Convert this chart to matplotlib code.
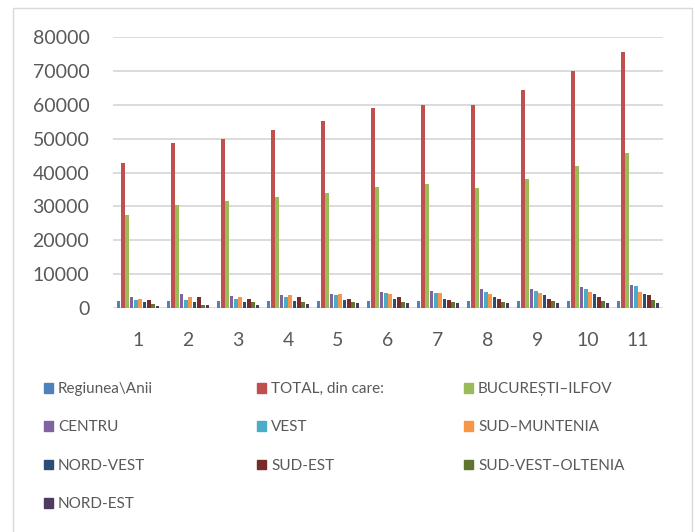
import numpy as np
import matplotlib.pyplot as plt
from matplotlib.patches import Rectangle, Patch

plt.rcParams['font.family'] = ['Lato', 'DejaVu Sans']

# ---- data ----
categories = ['1', '2', '3', '4', '5', '6', '7', '8', '9', '10', '11']
series_names = ['Regiunea\\Anii', 'TOTAL, din care:', 'BUCUREȘTI–ILFOV', 'CENTRU', 'VEST',
                'SUD–MUNTENIA', 'NORD-VEST', 'SUD-EST', 'SUD-VEST–OLTENIA', 'NORD-EST']
regiunea = [2000, 2001, 2002, 2003, 2004, 2005, 2006, 2007, 2008, 2009, 2010]
total = [42800, 48800, 50000, 52500, 55200, 59000, 59800, 60000, 64300, 70000, 75700]
bucuresti = [27500, 30500, 31700, 32700, 34000, 35800, 36700, 35500, 38200, 42000, 45700]
centru = [3300, 4000, 3500, 3700, 4000, 4600, 5000, 5600, 5600, 6200, 6700]
vest = [2300, 2300, 2800, 3200, 3800, 4400, 4500, 4600, 5100, 5500, 6400]
sud_muntenia = [2800, 3100, 3300, 3700, 4000, 4000, 4500, 4100, 4500, 4700, 4700]
nord_vest = [1700, 1800, 1700, 2100, 2300, 2600, 2600, 3100, 3700, 4000, 4200]
sud_est = [2300, 3300, 2800, 3100, 2800, 3100, 2300, 2700, 2700, 3200, 3700]
sv_oltenia = [1100, 1000, 1800, 1700, 1700, 1800, 1700, 1700, 2000, 2000, 2300]
nord_est = [500, 900, 800, 1100, 1400, 1600, 1400, 1400, 1400, 1400, 1500]

series = [regiunea, total, bucuresti, centru, vest, sud_muntenia, nord_vest, sud_est, sv_oltenia, nord_est]
colors = ['#4F81BD', '#C0504D', '#9BBB59', '#8064A2', '#4BACC6',
          '#F79646', '#2C4D75', '#772C2A', '#5F7530', '#4D3B62']

W, H = 695, 532
fig = plt.figure(figsize=(W / 100, H / 100), dpi=100)
fig.patches.append(Rectangle((13 / W, -0.01), (692 - 13) / W, 1 - 8 / H + 0.01,
                             transform=fig.transFigure, fill=False, edgecolor='#D9D9D9', lw=1))

ax = fig.add_axes([113 / W, 1 - 308 / H, 550 / W, 271 / H])
x = np.arange(len(categories))
step = 0.087
for i, (vals, c) in enumerate(zip(series, colors)):
    ax.bar(x + (i - 4.5) * step, vals, width=0.072, color=c, label=series_names[i], zorder=3)

ax.set_xlim(-0.5, len(categories) - 0.5)
ax.set_ylim(0, 80000)
ax.set_yticks(np.arange(0, 80001, 10000))
ax.set_xticks(x, categories)
ax.yaxis.grid(True, color='#D9D9D9', lw=1.3, zorder=0)
for s in ax.spines.values():
    s.set_visible(False)
ax.tick_params(length=0, labelsize=14, labelcolor='#595959')
ax.tick_params(axis='y', pad=17)
ax.tick_params(axis='x', pad=17)

# legend in three columns
handles = [Patch(color=c) for c in colors]
cols = [[0, 3, 6, 9], [1, 4, 7], [2, 5, 8]]
xs = [44, 257, 464]
for cx, idx in zip(xs, cols):
    fig.legend([handles[k] for k in idx], [series_names[k] for k in idx],
               loc='upper left', bbox_to_anchor=(cx / W, 1 - 382 / H),
               frameon=False, fontsize=11, handlelength=0.62, handleheight=0.62,
               handletextpad=0.3, labelspacing=1.6, labelcolor='#595959',
               borderpad=0, borderaxespad=0)

fig.savefig('out.png', dpi=100)
